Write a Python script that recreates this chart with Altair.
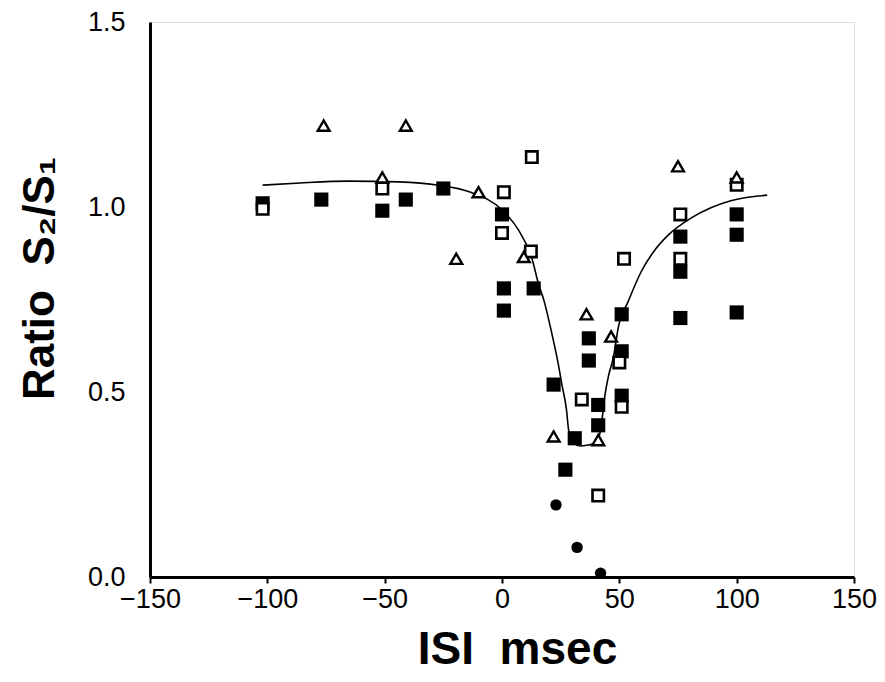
import altair as alt
import pandas as pd

# Fitted curve
curve_x = [-102, -86, -65, -44, -27, -14, 0, 7, 12.7, 15.7, 17.8, 21.2, 24.2, 25.4, 27.5, 28.4,
           30.5, 33.5, 36.9, 40, 42, 44, 45.3, 47.5, 49.6, 53.8, 59.3, 65.3, 70.8, 80.5, 89, 97.5, 113]
curve_y = [1.059, 1.065, 1.070, 1.068, 1.059, 1.041, 0.992, 0.938, 0.862, 0.789, 0.749, 0.659, 0.568,
           0.524, 0.451, 0.397, 0.362, 0.354, 0.357, 0.362, 0.397, 0.497, 0.541, 0.595, 0.676, 0.745,
           0.825, 0.885, 0.924, 0.970, 0.998, 1.017, 1.032]

# Open triangles
tri_x = [-76, -41, -51, -19.5, -10, 9.3, 22, 36, 46.5, 41, 75, 100]
tri_y = [1.22, 1.22, 1.08, 0.86, 1.04, 0.865, 0.38, 0.71, 0.65, 0.37, 1.11, 1.08]

# Open squares
osq_x = [-102, -51, 12.7, 0.8, 0, 12.3, 34, 51, 50, 41, 52, 76, 76, 100]
osq_y = [0.995, 1.05, 1.135, 1.04, 0.93, 0.88, 0.48, 0.46, 0.58, 0.22, 0.86, 0.98, 0.86, 1.06]

# Filled squares
fsq_x = [-102, -77, -51, -41, -25, 0, 0.8, 0.8, 13.5, 22, 27, 37, 37, 31, 41, 41, 51, 51, 51,
         76, 76, 76, 100, 100, 100]
fsq_y = [1.01, 1.02, 0.99, 1.02, 1.05, 0.98, 0.78, 0.72, 0.78, 0.52, 0.29, 0.645, 0.585, 0.375,
         0.465, 0.41, 0.71, 0.61, 0.49, 0.92, 0.825, 0.70, 0.98, 0.925, 0.715]

# Filled circles
cir_x = [23, 32, 42]
cir_y = [0.195, 0.08, 0.01]

x_ticks = [-150, -100, -50, 0, 50, 100, 150]
y_ticks = [0.0, 0.5, 1.0, 1.5]

curve_df = pd.DataFrame({"x": curve_x, "y": curve_y})
tri_df = pd.DataFrame({"x": tri_x, "y": tri_y})
osq_df = pd.DataFrame({"x": osq_x, "y": osq_y})
fsq_df = pd.DataFrame({"x": fsq_x, "y": fsq_y})
cir_df = pd.DataFrame({"x": cir_x, "y": cir_y})

FONT = "Liberation Sans"

xscale = alt.Scale(domain=[-150, 150], nice=False, zero=False)
yscale = alt.Scale(domain=[0, 1.5], nice=False, zero=False)

xaxis = alt.Axis(
    values=x_ticks, title="ISI\u00a0\u00a0msec", grid=False,
    labelFont=FONT, labelFontSize=27, labelColor="black", labelPadding=3,
    tickSize=6, tickColor="black", tickWidth=2,
    domainColor="black", domainWidth=3,
    titleFont=FONT, titleFontSize=46, titleFontWeight="bold", titleColor="black",
    titleBaseline="alphabetic", titleX=367, titleY=86, titleAnchor="middle",
    labelFlush=False, labelOverlap=False,
)
yaxis = alt.Axis(
    values=y_ticks, format=".1f", title="Ratio\u00a0\u00a0S\u2082/S\u2081", grid=False,
    labelFont=FONT, labelFontSize=27, labelColor="black", labelPadding=25,
    ticks=False, domainColor="black", domainWidth=3,
    titleFont=FONT, titleFontSize=44, titleFontWeight="bold", titleColor="black",
    titleBaseline="alphabetic", titleAngle=270, titleX=-97, titleY=256, titleAlign="center",
    labelFlush=False, labelOverlap=False,
)

X = alt.X("x:Q", scale=xscale, axis=xaxis)
Y = alt.Y("y:Q", scale=yscale, axis=yaxis)

line = alt.Chart(curve_df).mark_line(color="black", strokeWidth=1.6, interpolate="monotone").encode(x=X, y=Y)

fsq = alt.Chart(fsq_df).mark_point(shape="square", filled=True, color="black", size=200, opacity=1).encode(x=X, y=Y)
cir = alt.Chart(cir_df).mark_point(shape="circle", filled=True, color="black", size=130, opacity=1).encode(x=X, y=Y)
osq = alt.Chart(osq_df).mark_point(shape="square", filled=False, fill="white", fillOpacity=1,
                                   stroke="black", strokeWidth=2.6, size=130, opacity=1).encode(x=X, y=Y)
tri = alt.Chart(tri_df).mark_point(shape="triangle-up", filled=False, fill="white", fillOpacity=1,
                                   stroke="black", strokeWidth=2.4, size=140, opacity=1).encode(x=X, y=Y)

chart = alt.layer(line, fsq, cir, osq, tri).properties(
    width=704, height=555,
    autosize=alt.AutoSizeParams(type="none"),
    padding={"left": 142, "top": 14, "right": 23, "bottom": 97},
).configure_view(stroke="#555555", strokeWidth=2).configure(background="white")

chart.save("out.html", embed_options={"renderer": "svg", "actions": False})
